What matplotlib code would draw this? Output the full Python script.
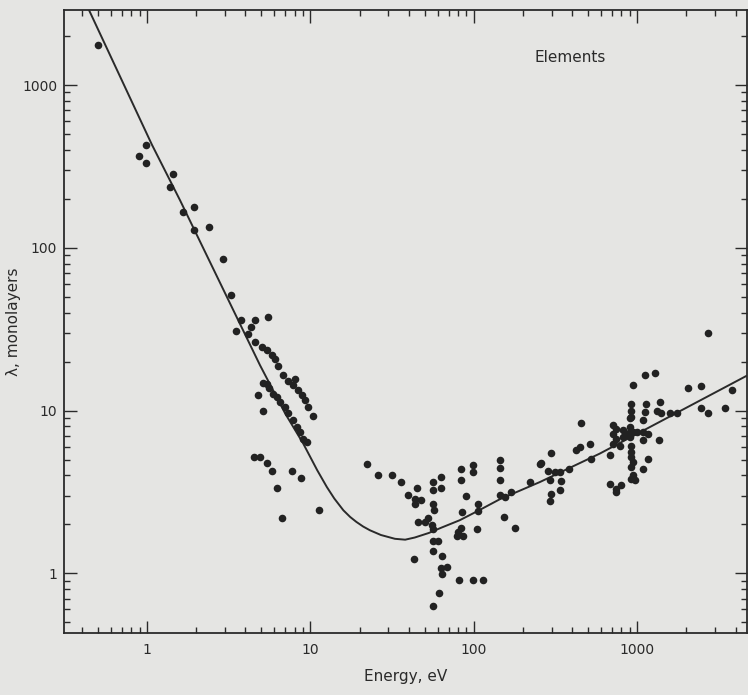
import matplotlib
matplotlib.use("Agg")
import matplotlib.pyplot as plt
from matplotlib.ticker import LogLocator, NullFormatter, FixedLocator, FixedFormatter

# Measured attenuation lengths (Energy in eV, lambda in monolayers)
energy_ev = [
    0.5, 0.99, 0.89, 0.99, 1.45, 1.38, 1.65, 1.95, 1.95, 2.4, 2.9, 3.26,
    3.76, 3.5, 4.58, 4.33, 5.47, 4.17,
    # upper stripe
    4.58, 5.03, 5.45, 5.79, 6.06, 6.35, 6.82, 7.31, 8.04, 7.85, 8.42, 8.83,
    9.25, 9.7, 10.3,
    # lower stripe
    5.14, 5.45, 5.6, 5.87, 6.21, 6.5, 6.98, 7.31, 7.85, 8.23, 8.63, 9.03, 9.48,
    # scattered below
    4.8, 5.1, 4.51, 4.91, 5.45, 5.79, 6.21, 7.74, 8.7, 6.72, 11.2,
    # around the minimum
    22.1, 25.8, 31.7, 35.7, 39.3, 44.6, 43.5, 47.8, 43.5, 55.9, 63.4, 55.9,
    63.4, 56.4, 56.9, 45.6, 50.1, 52.5, 55.1, 56.4, 56.4, 60.5, 56.4, 64, 43,
    68.7, 63.4, 64, 61.1, 56.4, 81.3, 98.2, 114, 83.2, 83.2, 98.2, 98.2, 89.3,
    84.1, 83.2, 78.4, 85.3, 80.2, 106, 106, 105, 144, 144, 144, 144, 156, 170,
    153, 178, 222, 254,
    # 250 - 5000 eV
    296, 259, 285, 313, 336, 292, 340, 336, 296, 292, 383, 425, 445, 512, 524,
    456, 679, 711, 746, 711, 746, 711, 783, 822, 860, 822, 900, 900, 900, 943,
    1000, 1080, 1160, 1080, 1360, 922, 922, 922, 900, 1140, 1110, 1080, 1373,
    1320, 1400, 1580, 1750, 922, 922, 922, 943, 922, 1164, 1080, 943, 922, 966,
    679, 746, 800, 739, 943, 1110, 1280, 2040, 2444, 3800, 2444, 2710, 3460,
    2710,
]
lambda_ml = [
    1750, 427, 366, 333, 285, 235, 166, 179, 128, 134, 85, 51,
    36, 31, 36, 32.6, 37.6, 29.5,
    26.2, 24.6, 23.5, 21.9, 20.6, 18.7, 16.5, 15.3, 15.6, 14.3, 13.3, 12.4,
    11.6, 10.5, 9.2,
    14.7, 14.5, 13.7, 12.7, 12.1, 11.3, 10.5, 9.6, 8.7, 7.9, 7.4, 6.7, 6.4,
    12.4, 10.0, 5.19, 5.2, 4.77, 4.24, 3.36, 4.24, 3.85, 2.19, 2.44,
    4.72, 4.02, 4.02, 3.62, 3.05, 3.34, 2.88, 2.81, 2.66, 3.64, 3.88, 3.27,
    3.36, 2.68, 2.44, 2.07, 2.07, 2.2, 1.97, 1.88, 1.58, 1.58, 1.37, 1.28, 1.22,
    1.09, 1.08, 0.99, 0.76, 0.63, 0.91, 0.91, 0.91, 4.4, 3.73, 4.66, 4.2, 2.97,
    2.38, 1.9, 1.69, 1.69, 1.8, 2.68, 2.4, 1.88, 5.0, 4.44, 3.77, 3.01, 2.95, 3.16,
    2.22, 1.9, 3.64, 4.72,
    5.46, 4.77, 4.24, 4.2, 4.2, 3.73, 3.68, 3.27, 3.09, 2.78, 4.4, 5.76, 5.98, 6.27, 5.07,
    8.39, 5.31, 8.13, 7.7, 7.2, 6.7, 6.27, 6.1, 7.57, 7.2, 6.89, 7.93, 7.4, 6.89, 7.4,
    7.4, 7.4, 7.2, 6.56, 6.64, 10.9, 10.0, 9.1, 9.0, 11.0, 9.8, 8.7, 11.3,
    10.0, 9.6, 9.6, 9.6, 6.1, 5.57, 5.19, 4.83, 4.5, 5.07, 4.4, 4.0, 3.8, 3.73,
    3.56, 3.31, 3.47, 3.16, 14.3, 16.5, 17.0, 13.8, 14.2, 13.3, 10.4, 9.6, 10.4,
    30,
]

# Universal curve, points
curve_energy = [0.44, 1.07, 1.59, 4.91, 7.0, 9.03, 11.0, 12.6, 14.0, 15.9,
                17.5, 19.1, 21.0, 23.1, 27.0, 32.9, 38.0, 43.5, 53, 63.4,
                82, 106, 144, 254, 590, 4650]
curve_lambda = [2900, 430, 196, 19, 9.6, 6.27, 4.3, 3.39, 2.88, 2.44,
                2.22, 2.07, 1.94, 1.84, 1.72, 1.63, 1.61, 1.66, 1.77, 1.91,
                2.12, 2.42, 2.85, 3.64, 5.44, 16.3]

x_ticks = [1, 10, 100, 1000]
x_tick_labels = ["1", "10", "100", "1000"]
y_ticks = [1, 10, 100, 1000]
y_tick_labels = ["1", "10", "100", "1000"]


def plot_universal_curve():
    bg = "#e5e5e3"
    ink = "#2a2a2a"
    fig = plt.figure(figsize=(7.48, 6.95), dpi=100, facecolor=bg)
    ax = fig.add_axes([0.0856, 0.0892, 0.913, 0.8964], facecolor=bg)

    ax.plot(curve_energy, curve_lambda, color=ink, linewidth=1.4)
    ax.scatter(energy_ev, lambda_ml, s=30, color="#222222", zorder=3,
               linewidths=0)

    ax.set_xscale("log")
    ax.set_yscale("log")
    ax.set_xlim(0.31, 4700)
    ax.set_ylim(0.43, 2890)

    ax.xaxis.set_major_locator(FixedLocator(x_ticks))
    ax.xaxis.set_major_formatter(FixedFormatter(x_tick_labels))
    ax.yaxis.set_major_locator(FixedLocator(y_ticks))
    ax.yaxis.set_major_formatter(FixedFormatter(y_tick_labels))
    ax.xaxis.set_minor_locator(LogLocator(base=10, subs=range(2, 10), numticks=20))
    ax.yaxis.set_minor_locator(LogLocator(base=10, subs=range(2, 10), numticks=20))
    ax.xaxis.set_minor_formatter(NullFormatter())
    ax.yaxis.set_minor_formatter(NullFormatter())

    ax.tick_params(which="both", direction="in", top=True, right=True,
                   color=ink, labelcolor=ink, labelsize=10, width=1)
    ax.tick_params(which="major", length=9)
    ax.tick_params(which="minor", length=4)
    ax.tick_params(axis="x", pad=7)
    ax.tick_params(axis="y", pad=5)
    for s in ax.spines.values():
        s.set_color(ink)
        s.set_linewidth(1.3)

    ax.set_xlabel("Energy, eV", fontsize=11, color=ink, labelpad=9)
    ax.set_ylabel("λ, monolayers", fontsize=11, color=ink, labelpad=1)
    ax.text(0.741, 0.923, "Elements", transform=ax.transAxes, fontsize=11,
            color=ink, ha="center", va="center")

    fig.savefig("out.png", dpi=100, facecolor=bg)


if __name__ == "__main__":
    plot_universal_curve()
